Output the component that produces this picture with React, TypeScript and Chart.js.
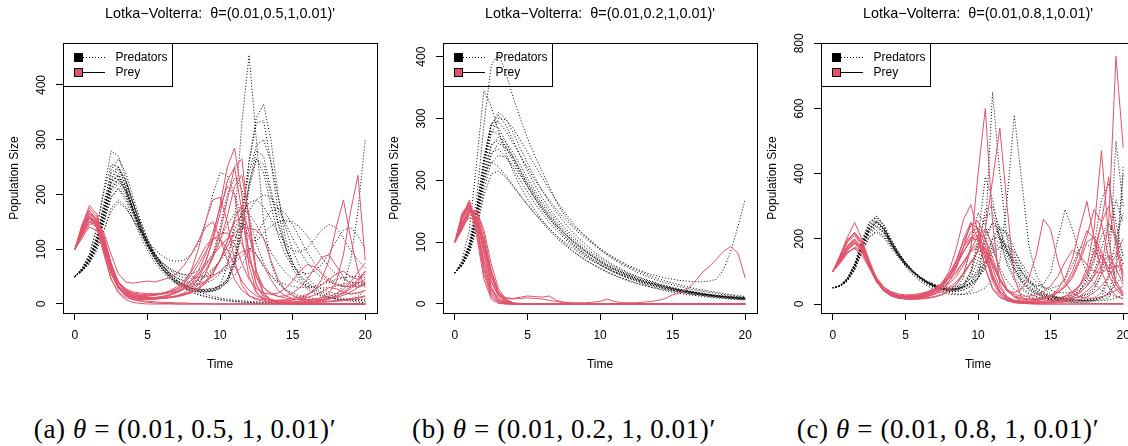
import React, { useEffect, useRef } from "react";
import { Chart, registerables } from "chart.js";

Chart.register(...registerables);

const FONT = "'Liberation Sans', Arial, Helvetica, sans-serif";
const PREY_COLOR = "#DF536B";
const PRED_COLOR = "#000000";

// ---------------- data ----------------
const timeGrid = [0, 0.5, 1, 1.5, 2, 2.5, 3, 3.5, 4, 4.5, 5, 5.5, 6, 6.5, 7, 7.5, 8, 8.5, 9, 9.5, 10, 10.5, 11, 11.5, 12, 12.5, 13, 13.5, 14, 14.5, 15, 15.5, 16, 16.5, 17, 17.5, 18, 18.5, 19, 19.5, 20];
const xTicks = [0, 5, 10, 15, 20];
const yTicksA = [0, 100, 200, 300, 400];
const yTicksB = [0, 100, 200, 300, 400];
const yTicksC = [0, 200, 400, 600, 800];
const legendLabels = ["Predators", "Prey"];
const panelTitles = [
  "Lotka\u2212Volterra:  \u03b8=(0.01,0.5,1,0.01)'",
  "Lotka\u2212Volterra:  \u03b8=(0.01,0.2,1,0.01)'",
  "Lotka\u2212Volterra:  \u03b8=(0.01,0.8,1,0.01)'",
];
const xTitle = "Time";
const yTitle = "Population Size";
const captionTags = ["(a)", "(b)", "(c)"];
const captionThetas = ["(0.01, 0.5, 1, 0.01)\u2032", "(0.01, 0.2, 1, 0.01)\u2032", "(0.01, 0.8, 1, 0.01)\u2032"];

// Panel (a) prey
const preyA1 = [100,140,175,160,110,60,30,18,12,10, 9,9,10,12,15,20,30,45,75,120, 180,250,285,200,90,35,15,8,5,4, 4,5,6,8,12,20,40,90,170,235, 80];
const preyA2 = [100,135,165,155,115,70,38,22,15,12, 10,10,11,12,14,18,24,35,55,85, 130,190,250,265,150,50,18,8,4,3, 2,2,2,3,3,4,5,6,8,10, 14];
const preyA3 = [100,130,150,140,100,55,28,16,10,8, 8,9,11,15,22,35,60,100,150,190, 195,150,80,35,15,8,5,4,4,5, 7,10,15,25,45,80,140,190,120,60, 30];
const preyA4 = [100,145,170,150,95,45,20,8,3,1, 0,0,0,0,0,0,0,0,0,0, 0,0,0,0,0,0,0,0,0,0, 0,0,0,0,0,0,0,0,0,0, 0];
const preyA5 = [100,120,145,150,130,90,55,40,38,40, 42,40,44,48,55,70,90,115,140,150, 120,80,45,25,15,10,8,7,7,8, 10,13,18,25,35,45,55,60,50,45, 55];
const preyA6 = [100,130,160,145,105,60,32,20,15,13, 12,12,14,17,22,30,42,60,90,130, 175,215,200,120,50,20,10,6,4,3, 3,3,4,5,7,9,12,16,22,30, 40];
const preyA7 = [100,125,150,155,125,75,40,25,18,14, 12,11,11,12,14,17,22,30,42,60, 80,105,130,140,138,135,120,80,45,25, 15,10,8,7,8,10,14,20,28,40, 60];
const preyA8 = [100,140,160,140,90,45,22,12,8,6, 5,4,3,3,2,2,1,1,1,0, 0,0,0,0,0,0,0,0,0,0, 0,0,0,0,0,0,0,0,0,0, 0];
const preyA9 = [100,135,160,150,110,62,32,20,14,12, 11,11,12,13,15,18,22,28,38,55, 80,115,155,180,130,60,30,18,14,15, 20,30,45,65,85,90,70,50,35,30, 35];
const preyA10 = [100,125,140,135,110,70,40,28,22,20, 19,19,20,22,24,27,31,36,42,50, 60,72,85,95,100,90,70,45,25,15, 10,7,5,4,4,5,6,8,10,12, 15];
const preyA11 = [100,140,165,145,100,55,28,16,11,9, 9,9,10,11,13,16,20,27,38,55, 80,115,150,160,95,35,12,5,2,1, 1,0,0,0,0,0,0,0,0,0, 0];
const preyA12 = [100,130,155,150,120,70,38,24,18,16, 16,17,19,22,27,33,42,55,70,88, 105,120,125,110,80,50,30,20,14,11, 9,8,8,9,11,14,19,27,40,58, 75];
const preyA13 = [100,145,180,165,120,65,30,15,8,5, 3,2,1,1,0,0,0,0,0,0, 0,0,0,0,0,0,0,0,0,0, 0,0,0,0,0,0,0,0,0,0, 0];
const preyA14 = [100,128,150,148,118,72,40,26,20,18, 17,17,18,20,23,28,35,46,62,85, 115,160,215,235,160,60,20,8,4,2, 2,2,3,4,6,9,14,22,32,45, 60];
const preyA15 = [100,138,158,142,104,58,30,19,14,13, 14,16,19,24,31,42,58,80,105,120, 118,100,70,42,25,15,10,7,6,6, 7,9,12,16,22,30,28,22,18,20, 25];
const preyA16 = [100,132,158,150,112,64,34,22,17,15, 15,16,18,22,28,38,52,72,95,118, 128,130,110,75,45,28,20,18,20,28, 42,60,72,68,55,42,35,32,33,38, 45];
const preyA17 = [100,142,170,155,108,58,29,17,12,10, 10,11,13,16,20,27,37,52,78,115, 165,225,250,170,70,22,7,2,1,0.5, 0,0,0,0,0,0,0,0,0,0, 0];

// Panel (a) predators
const predA1 = [50,62,80,110,160,215,230,205,170,135, 105,82,63,48,37,30,25,22,22,25, 35,70,150,330,455,300,150,75,40,25, 17,12,9,7,6,5,6,7,9,14, 25];
const predA2 = [50,65,90,135,210,280,270,230,185,145, 110,85,66,52,41,33,28,25,25,27, 32,45,80,150,260,340,365,300,200,120, 75,48,32,22,16,12,9,8,7,7, 7];
const predA3 = [50,62,78,105,150,195,210,190,155,125, 98,76,59,46,37,32,32,38,55,90, 140,200,230,210,160,110,75,52,37,27, 20,15,12,10,9,11,16,35,80,170, 300];
const predA4 = [50,64,85,120,175,225,235,210,175,140, 110,88,70,55,44,35,28,22,18,14, 11,9,7,6,5,4,3,2.5,2,1.6, 1.3,1,0.8,0.6,0.5,0.4,0.3,0.2,0.2,0.1, 0.1];
const predA5 = [50,60,75,100,135,170,185,175,155,135, 115,100,88,80,78,80,90,110,150,200, 240,235,200,160,120,90,68,52,42,36, 32,30,30,32,36,40,45,48,50,50, 48];
const predA6 = [50,62,80,112,165,220,235,210,172,138, 108,84,65,50,39,31,26,23,22,24, 30,45,85,160,260,330,335,260,170,105, 65,42,28,19,14,11,9,8,8,8, 9];
const predA7 = [50,61,78,108,155,205,220,200,165,132, 104,82,64,51,41,34,29,27,27,29, 33,40,52,70,95,125,150,170,175,165, 145,120,95,75,58,46,38,33,31,32, 35];
const predA8 = [50,63,82,118,172,228,245,222,182,145, 113,87,67,51,39,30,23,18,14,11, 8.5,6.5,5,4,3,2.3,1.8,1.4,1,0.8, 0.6,0.5,0.4,0.3,0.2,0.2,0.1,0.1,0.1,0, 0];
const predA9 = [50,63,83,116,170,230,250,225,185,148, 116,90,70,54,43,35,30,27,26,28, 33,45,75,130,210,265,240,180,125,90, 68,58,55,60,72,92,115,135,140,125, 100];
const predA10 = [50,60,74,98,135,175,190,178,155,130, 108,90,76,66,58,53,50,49,50,53, 58,65,75,88,100,115,130,142,150,152, 150,140,125,105,85,68,55,46,40,37, 36];
const predA11 = [50,63,84,120,180,245,265,240,195,155, 120,93,72,56,44,36,30,26,24,25, 29,40,70,130,220,280,270,210,150,105, 75,54,40,30,22,17,13,10,8,6, 5];
const predA12 = [50,61,77,104,148,195,212,195,165,135, 110,90,74,62,53,48,46,48,54,64, 78,96,118,145,170,190,200,195,175,148, 120,96,76,60,48,40,35,32,32,34, 38];
const predA13 = [50,66,92,140,205,255,250,215,175,138, 108,84,65,50,38,29,22,17,13,10, 7.5,5.7,4.3,3.2,2.4,1.8,1.3,1,0.7,0.5, 0.4,0.3,0.2,0.1,0.1,0,0,0,0,0, 0];
const predA14 = [50,62,80,110,158,210,228,208,172,140, 112,90,72,58,48,41,37,36,38,44, 55,75,110,170,240,290,300,260,195,140, 98,68,48,35,27,22,19,18,19,21, 25];
const predA15 = [50,63,82,114,168,222,238,214,176,142, 114,92,76,64,57,54,55,60,72,92, 118,145,165,172,165,145,120,95,74,58, 46,38,33,30,29,30,33,36,38,39, 40];
const predA16 = [50,61,79,109,158,210,226,206,170,137, 109,87,70,57,48,43,41,43,50,62, 80,105,135,165,185,190,178,155,130,110, 98,95,102,118,135,145,140,120,98,80, 66];
const predA17 = [50,64,86,124,185,240,250,226,186,150, 118,92,71,55,43,34,28,24,22,23, 28,40,75,140,220,265,255,200,145,103, 73,52,37,26,19,13,9.5,7,5,3.5, 2.5];

// Panel (b) prey
const preyB1 = [100,125,150,140,95,45,18,10,9,11, 13,12,11,13,6,3,2,2,2,3, 4,8,4,2,2,2,3,4,6,9, 15,18,24,35,50,60,72,85,93,82, 42];
const preyB2 = [100,130,155,135,85,35,14,9,8,9, 10,9,8,6,4,2,1,0,0,0, 0,0,0,0,0,0,0,0,0,0, 0,0,0,0,0,0,0,0,0,0, 0];
const preyB3 = [100,140,165,125,55,15,3,1,0,0, 0,0,0,0,0,0,0,0,0,0, 0,0,0,0,0,0,0,0,0,0, 0,0,0,0,0,0,0,0,0,0, 0];
const preyB4 = [100,130,150,145,100,45,14,4,1,0, 0,0,0,0,0,0,0,0,0,0, 0,0,0,0,0,0,0,0,0,0, 0,0,0,0,0,0,0,0,0,0, 0];
const preyB5 = [100,145,160,110,40,8,1,0,0,0, 0,0,0,0,0,0,0,0,0,0, 0,0,0,0,0,0,0,0,0,0, 0,0,0,0,0,0,0,0,0,0, 0];
const preyB6 = [100,135,158,138,80,28,8,2,0,0, 0,0,0,0,0,0,0,0,0,0, 0,0,0,0,0,0,0,0,0,0, 0,0,0,0,0,0,0,0,0,0, 0];
const preyB7 = [100,120,145,150,120,65,25,8,2,0, 0,0,0,0,0,0,0,0,0,0, 0,0,0,0,0,0,0,0,0,0, 0,0,0,0,0,0,0,0,0,0, 0];
const preyB8 = [100,142,168,130,60,18,4,1,0,0, 0,0,0,0,0,0,0,0,0,0, 0,0,0,0,0,0,0,0,0,0, 0,0,0,0,0,0,0,0,0,0, 0];
const preyB9 = [100,128,152,148,105,50,16,5,1,0, 0,0,0,0,0,0,0,0,0,0, 0,0,0,0,0,0,0,0,0,0, 0,0,0,0,0,0,0,0,0,0, 0];
const preyB10 = [100,138,160,128,68,22,6,2,1,0, 0,0,0,0,0,0,0,0,0,0, 0,0,0,0,0,0,0,0,0,0, 0,0,0,0,0,0,0,0,0,0, 0];
const preyB11 = [100,125,140,135,98,52,20,7,2,1, 0.5,0,0,0,0,0,0,0,0,0, 0,0,0,0,0,0,0,0,0,0, 0,0,0,0,0,0,0,0,0,0, 0];
const preyB12 = [100,148,162,118,48,12,2,0,0,0, 0,0,0,0,0,0,0,0,0,0, 0,0,0,0,0,0,0,0,0,0, 0,0,0,0,0,0,0,0,0,0, 0];
const preyB13 = [100,133,150,140,90,38,12,3,1,0, 0,0,0,0,0,0,0,0,0,0, 0,0,0,0,0,0,0,0,0,0, 0,0,0,0,0,0,0,0,0,0, 0];
const preyB14 = [100,122,148,152,112,55,18,5,1,0, 0,0,0,0,0,0,0,0,0,0, 0,0,0,0,0,0,0,0,0,0, 0,0,0,0,0,0,0,0,0,0, 0];
const preyB15 = [100,140,155,125,70,25,7,2,0,0, 0,0,0,0,0,0,0,0,0,0, 0,0,0,0,0,0,0,0,0,0, 0,0,0,0,0,0,0,0,0,0, 0];

// Panel (b) predators
const predB1 = [50,68,100,170,290,385,405,375,335,300, 268,240,215,190,165,145,130,120,110,100, 90,82,75,68,62,57,52,48,45,42, 40,38,37,36,36,37,40,55,85,125, 170];
const predB2 = [50,72,120,230,345,320,280,245,215,190, 170,152,136,122,110,98,88,79,71,64, 57,51,46,41,37,33,30,27,24,21, 19,17,15,14,12,11,10,9,8,7, 6.5];
const predB3 = [50,66,95,150,230,290,305,290,265,240, 215,193,173,155,139,125,112,101,91,82, 74,67,60,54,49,44,40,36,32,29, 26,23,21,19,17,15,14,12,11,10, 9];
const predB4 = [50,65,92,148,225,280,275,255,232,210, 190,170,153,138,124,111,100,90,81,73, 66,59,53,48,43,39,35,31,28,25, 23,21,19,17,15,14,12,11,10,9, 8];
const predB5 = [50,63,86,130,195,240,260,252,235,215, 195,176,158,142,128,115,103,93,84,76, 68,61,55,50,45,40,36,33,30,27, 24,22,20,18,16,14,13,12,11,10, 9];
const predB6 = [50,62,82,122,175,210,215,205,190,175, 160,146,132,119,107,97,87,79,71,64, 58,52,47,42,38,34,31,28,25,23, 21,19,17,15,14,12,11,10,9,8, 7.5];
const predB7 = [50,65,90,142,215,275,300,298,285,265, 245,225,205,185,167,150,135,121,109,98, 88,79,71,64,58,52,47,42,38,34, 31,28,25,23,21,19,17,15,14,12, 11];
const predB8 = [50,67,97,155,238,290,285,262,238,214, 192,172,154,138,124,111,99,89,80,72, 64,57,51,46,41,37,33,30,27,24, 22,20,18,16,14,13,12,10,9,8, 7.5];
const predB9 = [50,64,88,135,205,255,270,262,245,225, 204,184,166,149,134,120,108,97,87,79, 71,64,58,52,47,42,38,34,31,28, 25,22,20,18,16,15,13,12,11,10, 9];
const predB10 = [50,63,87,135,200,245,250,238,220,200, 181,163,147,132,119,107,96,87,78,70, 63,57,51,46,42,38,34,31,28,25, 22,20,18,16,15,13,12,11,10,9, 8];
const predB11 = [50,66,94,148,228,288,310,300,278,252, 228,205,184,165,148,133,119,107,96,86, 77,69,62,56,50,45,41,37,33,30, 27,24,22,20,18,16,14,13,12,11, 10];
const predB12 = [50,64,90,145,210,230,222,208,192,176, 161,147,134,122,111,101,92,84,76,69, 63,57,52,47,43,39,35,32,29,26, 24,22,20,18,16,15,13,12,11,10, 9];
const predB13 = [50,66,95,152,235,292,295,280,260,240, 220,201,184,168,153,139,127,116,106,97, 88,80,73,66,60,55,50,45,41,37, 34,31,28,25,23,21,19,17,15,14, 12];
const predB14 = [50,64,90,140,210,258,265,255,238,218, 198,179,161,145,130,117,105,95,86,77, 69,62,56,51,46,41,37,34,30,27, 25,22,20,18,16,15,13,12,11,10, 9];
const predB15 = [50,62,84,125,185,228,240,238,225,208, 190,172,156,141,127,115,104,94,85,77, 69,62,56,51,46,42,38,34,31,28, 25,23,21,19,17,15,14,13,12,11, 10];

// Panel (c) prey
const preyC1 = [100,150,205,250,200,120,70,40,25,18, 15,14,15,17,21,28,40,60,95,170, 400,600,250,60,20,8,4,3,3,4, 6,9,14,22,35,55,85,120,150,110, 60];
const preyC2 = [100,140,175,195,175,120,75,45,30,22, 18,17,17,19,23,30,42,60,90,125, 165,230,380,540,300,80,20,7,4,3, 3,4,6,9,14,22,35,55,85,120, 100];
const preyC3 = [100,145,190,210,180,125,75,42,25,18, 16,17,20,27,40,62,100,170,260,305, 220,110,45,20,12,8,7,8,10,14, 25,45,80,140,230,315,200,100,50,25, 15];
const preyC4 = [100,135,170,185,165,115,70,45,30,24, 22,22,24,28,35,46,62,85,120,165, 210,230,180,100,45,20,10,6,5,5, 6,8,11,16,24,40,60,110,250,760, 480];
const preyC5 = [100,150,200,215,185,125,70,40,26,20, 18,19,22,28,38,55,80,120,175,220, 235,180,90,35,14,7,4,3,3,4, 6,10,17,30,55,110,230,470,200,60, 25];
const preyC6 = [100,140,180,200,170,115,68,40,27,22, 20,21,24,30,40,56,80,115,160,200, 210,165,90,40,18,9,6,5,6,8, 11,16,24,36,55,85,140,250,390,200, 90];
const preyC7 = [100,130,165,185,170,125,80,50,34,26, 22,21,22,25,30,38,50,68,95,130, 160,170,130,70,40,35,45,80,150,260, 230,130,65,35,22,18,18,22,30,42, 55];
const preyC8 = [100,125,155,175,165,125,82,52,36,28, 25,25,27,32,40,52,70,95,130,165, 185,170,125,75,42,25,18,16,17,20, 26,36,52,80,130,190,205,160,90,45, 25];
const preyC9 = [100,145,195,220,190,130,75,42,26,19, 16,16,18,22,30,44,68,110,175,250, 230,150,70,28,10,4,2,1,0.5,0, 0,0,0,0,0,0,0,0,0,0, 0];
const preyC10 = [100,135,160,170,150,110,70,45,32,26, 24,25,28,34,44,60,85,120,160,195, 200,150,80,35,14,5,2,1,0,0, 0,0,0,0,0,0,0,0,0,0, 0];
const preyC11 = [100,140,175,190,165,115,68,42,29,23, 21,22,25,31,42,60,90,135,190,240, 255,200,110,50,22,11,7,6,6,8, 11,16,24,37,58,95,160,250,300,180, 70];
const preyC12 = [100,138,178,198,172,120,72,44,30,24, 22,23,26,32,42,58,82,118,160,200, 225,200,140,80,40,22,15,13,14,18, 25,38,60,100,165,225,200,140,110,115, 120];
const preyC13 = [100,128,158,172,158,118,78,52,38,31, 28,29,32,38,47,60,78,100,130,160, 175,160,118,75,45,30,24,24,28,38, 55,85,130,165,150,120,100,95,110,150, 200];
const preyC14 = [100,145,192,218,195,135,78,43,27,20, 17,17,19,24,33,50,80,130,200,250, 200,110,50,22,10,5,3,2,2,3, 5,8,13,21,34,55,90,150,110,60, 30];
const preyC15 = [100,132,168,190,172,122,74,46,32,26, 24,25,29,36,47,65,92,130,175,205, 195,140,80,40,20,12,9,9,11,15, 22,34,54,88,140,210,290,250,140,70, 35];

// Panel (c) predators
const predC1 = [50,55,75,115,180,240,270,240,190,150, 115,90,70,55,43,35,30,28,30,40, 80,220,650,400,200,110,65,42,30,22, 17,14,12,11,11,12,14,20,35,60, 90];
const predC2 = [50,56,78,120,185,235,255,230,185,148, 118,94,75,60,49,41,35,31,30,32, 38,50,75,130,320,580,380,180,90,50, 30,20,15,12,10,9,9,10,13,18, 28];
const predC3 = [50,54,72,110,170,225,250,228,188,152, 122,98,78,62,50,42,38,40,55,100, 200,390,320,200,120,72,45,30,22,18, 16,16,18,24,40,80,180,320,370,250, 140];
const predC4 = [50,55,74,112,172,222,240,220,182,148, 120,97,79,65,55,48,45,46,52,65, 90,130,175,200,180,140,100,70,50,36, 27,21,17,14,12,11,11,13,20,80, 400];
const predC5 = [50,57,80,125,195,250,270,245,200,160, 128,102,82,66,54,46,41,40,44,55, 80,130,200,240,210,150,100,66,44,30, 21,15,11,9,8,8,10,20,80,500, 300];
const predC6 = [50,56,76,116,178,230,252,232,192,155, 125,100,80,64,52,44,39,38,42,54, 78,120,180,230,220,170,115,75,50,34, 24,18,14,12,11,11,13,18,30,120, 420];
const predC7 = [50,55,73,108,165,215,235,218,182,150, 122,100,82,68,57,50,46,46,50,60, 80,115,160,190,170,130,90,65,55,60, 95,200,290,230,150,95,62,42,30,22, 17];
const predC8 = [50,54,70,104,158,205,225,210,178,148, 122,101,84,70,60,53,49,49,53,62, 80,108,145,175,180,160,125,92,68,52, 42,36,34,36,44,62,100,170,245,200, 120];
const predC9 = [50,57,80,122,190,248,265,240,198,160, 128,102,82,66,54,46,42,44,55,90, 170,290,300,230,160,110,76,52,36,25, 17,12,8.5,6,4,3,2,1.5,1,0.7, 0.5];
const predC10 = [50,56,77,118,180,232,255,232,192,156, 126,102,83,68,57,49,45,46,55,80, 135,210,250,210,150,100,68,46,32,22, 15,10,7,5,3.5,2.5,1.7,1.2,0.8,0.6, 0.4];
const predC11 = [50,55,75,114,176,228,250,230,190,154, 124,100,81,66,55,48,45,48,62,100, 180,270,280,200,130,82,52,34,23,17, 13,11,10,10,11,13,18,35,90,200, 280];
const predC12 = [50,56,76,116,178,230,250,228,188,152, 123,99,80,65,54,46,42,43,50,68, 110,190,250,230,165,110,72,48,34,26, 22,20,22,28,40,70,130,210,250,210, 150];
const predC13 = [50,54,71,105,160,205,220,205,172,143, 118,98,82,69,60,54,52,54,62,78, 100,130,160,175,160,130,98,74,58,50, 48,55,75,120,170,185,160,125,100,95, 110];
const predC14 = [50,56,78,120,186,240,258,234,194,158, 128,103,83,67,55,47,43,48,80,180, 280,240,170,110,70,45,30,21,16,13, 12,12,13,16,22,32,50,90,140,160, 130];
const predC15 = [50,55,74,112,172,222,242,222,186,152, 124,101,82,67,56,49,45,46,52,66, 95,150,200,205,165,120,82,56,40,30, 24,20,18,18,21,28,42,90,200,320, 250];

const preyA = [preyA1, preyA2, preyA3, preyA4, preyA5, preyA6, preyA7, preyA8, preyA9, preyA10, preyA11, preyA12, preyA13, preyA14, preyA15, preyA16, preyA17];
const predA = [predA1, predA2, predA3, predA4, predA5, predA6, predA7, predA8, predA9, predA10, predA11, predA12, predA13, predA14, predA15, predA16, predA17];
const preyB = [preyB1, preyB2, preyB3, preyB4, preyB5, preyB6, preyB7, preyB8, preyB9, preyB10, preyB11, preyB12, preyB13, preyB14, preyB15];
const predB = [predB1, predB2, predB3, predB4, predB5, predB6, predB7, predB8, predB9, predB10, predB11, predB12, predB13, predB14, predB15];
const preyC = [preyC1, preyC2, preyC3, preyC4, preyC5, preyC6, preyC7, preyC8, preyC9, preyC10, preyC11, preyC12, preyC13, preyC14, preyC15];
const predC = [predC1, predC2, predC3, predC4, predC5, predC6, predC7, predC8, predC9, predC10, predC11, predC12, predC13, predC14, predC15];

[preyA, predA, preyB, predB, preyC, predC].forEach((group, g) =>
  group.forEach((s, i) => {
    if (s.length !== timeGrid.length) throw new Error(`group ${g} series ${i} has length ${s.length}`);
  })
);

// ---------------- layout constants ----------------
const CANVAS_W = 380;
const CANVAS_H = 380;
const PLOT_LEFT = 63;
const PLOT_RIGHT = 378;
const PLOT_TOP = 43;
const PLOT_BOTTOM = 313;

function buildDatasets(prey: number[][], pred: number[][]) {
  const toPts = (vals: number[]) => vals.map((v, j) => ({ x: timeGrid[j], y: v }));
  return [
    ...prey.map((vals, i) => ({
      label: `${legendLabels[1]} ${i + 1}`,
      data: toPts(vals),
      borderColor: PREY_COLOR,
      borderWidth: 1,
      pointRadius: 0,
      tension: 0,
      fill: false,
      order: 0,
      xAxisID: "x",
      yAxisID: "y",
    })),
    ...pred.map((vals, i) => ({
      label: `${legendLabels[0]} ${i + 1}`,
      data: toPts(vals),
      borderColor: PRED_COLOR,
      borderWidth: 1,
      borderDash: [1, 2],
      pointRadius: 0,
      tension: 0,
      fill: false,
      order: 1,
      xAxisID: "x",
      yAxisID: "y",
    })),
  ];
}

const rLegendPlugin = {
  id: "rLegend",
  afterDraw(chart: any) {
    const { ctx, chartArea } = chart;
    const x0 = Math.round(chartArea.left);
    const y0 = Math.round(chartArea.top);
    ctx.save();
    ctx.setLineDash([]);
    ctx.strokeStyle = "#000";
    ctx.lineWidth = 1;
    ctx.strokeRect(x0 + 0.5, y0 + 0.5, 109, 43);
    // predators row
    ctx.fillStyle = "#000";
    ctx.fillRect(x0 + 11, y0 + 10, 9, 9);
    ctx.beginPath();
    ctx.setLineDash([1, 2]);
    ctx.moveTo(x0 + 20, y0 + 14.5);
    ctx.lineTo(x0 + 42, y0 + 14.5);
    ctx.stroke();
    // prey row
    ctx.setLineDash([]);
    ctx.beginPath();
    ctx.moveTo(x0 + 20, y0 + 29.5);
    ctx.lineTo(x0 + 42, y0 + 29.5);
    ctx.stroke();
    ctx.fillStyle = PREY_COLOR;
    ctx.fillRect(x0 + 11.5, y0 + 25.5, 8, 8);
    ctx.strokeRect(x0 + 11.5, y0 + 25.5, 8, 8);
    // text
    ctx.fillStyle = "#000";
    ctx.font = `12px ${FONT}`;
    ctx.textBaseline = "middle";
    ctx.textAlign = "left";
    ctx.fillText(legendLabels[0], x0 + 52.5, y0 + 15);
    ctx.fillText(legendLabels[1], x0 + 52.5, y0 + 29.5);
    ctx.restore();
  },
};

type PanelProps = {
  left: number;
  title: string;
  prey: number[][];
  pred: number[][];
  yMin: number;
  yMax: number;
  yTicks: number[];
};

function Panel({ left, title, prey, pred, yMin, yMax, yTicks }: PanelProps) {
  const ref = useRef<HTMLCanvasElement | null>(null);
  useEffect(() => {
    if (!ref.current) return;
    const xMin = -0.82;
    const xMax = 20.82;
    const tickFont = { family: FONT, size: 12 };
    const chart = new Chart(ref.current, {
      type: "line",
      data: { datasets: buildDatasets(prey, pred) as any },
      options: {
        animation: false,
        responsive: false,
        devicePixelRatio: 1,
        events: [],
        layout: { padding: { left: 0, right: CANVAS_W - PLOT_RIGHT, top: 0, bottom: 0 } },
        plugins: {
          legend: { display: false },
          tooltip: { enabled: false },
          title: {
            display: true,
            text: title,
            fullSize: false,
            color: "#000",
            font: { family: FONT, size: 14.4, weight: "normal" as any, lineHeight: 1.2 },
            padding: { top: 5.5, bottom: PLOT_TOP - 5.5 - 14.4 * 1.2 },
          },
        },
        scales: {
          x: {
            type: "linear",
            position: "bottom",
            min: xMin,
            max: xMax,
            afterBuildTicks: (s: any) => {
              s.ticks = xTicks.map((v) => ({ value: v }));
            },
            afterFit: (s: any) => {
              s.height = CANVAS_H - PLOT_BOTTOM;
            },
            grid: { display: true, drawOnChartArea: false, drawTicks: true, tickLength: 7, color: "#000", lineWidth: 1 },
            border: { display: true, color: "#000", width: 1 },
            ticks: { color: "#000", font: tickFont, padding: 8, maxRotation: 0, minRotation: 0, autoSkip: false, callback: (v: any) => String(v) },
            title: { display: true, text: xTitle, color: "#000", font: { family: FONT, size: 12 }, padding: { top: 0, bottom: 8 } },
          },
          y: {
            type: "linear",
            position: "left",
            min: yMin,
            max: yMax,
            afterBuildTicks: (s: any) => {
              s.ticks = yTicks.map((v) => ({ value: v }));
            },
            afterFit: (s: any) => {
              s.width = PLOT_LEFT;
            },
            grid: { display: true, drawOnChartArea: false, drawTicks: true, tickLength: 7, color: "#000", lineWidth: 1 },
            border: { display: true, color: "#000", width: 1 },
            ticks: { color: "#000", font: tickFont, padding: 4, minRotation: 90, maxRotation: 90, crossAlign: "center", autoSkip: false, callback: (v: any) => String(v) },
            title: { display: true, text: yTitle, color: "#000", font: { family: FONT, size: 12 }, padding: { top: 7, bottom: 0 } },
          },
          x2: {
            type: "linear",
            position: "top",
            min: xMin,
            max: xMax,
            ticks: { display: false },
            grid: { display: false },
            border: { display: true, color: "#000", width: 1 },
            afterFit: (s: any) => {
              s.height = 0;
            },
          },
          y2: {
            type: "linear",
            position: "right",
            min: yMin,
            max: yMax,
            ticks: { display: false },
            grid: { display: false },
            border: { display: true, color: "#000", width: 1 },
            afterFit: (s: any) => {
              s.width = 0;
            },
          },
        } as any,
      },
      plugins: [rLegendPlugin],
    });
    return () => chart.destroy();
  }, []);
  return (
    <canvas
      ref={ref}
      width={CANVAS_W}
      height={CANVAS_H}
      style={{ position: "absolute", left, top: 0, width: CANVAS_W, height: CANVAS_H }}
    />
  );
}

const captionStyle: React.CSSProperties = {
  position: "absolute",
  top: 416,
  transform: "translateX(-50%)",
  whiteSpace: "nowrap",
  fontFamily: "'Liberation Serif', 'Times New Roman', serif",
  fontSize: 27,
  letterSpacing: "0.6px",
  lineHeight: "27px",
  color: "#000",
};

export default function App() {
  const panels = [
    { left: 0, prey: preyA, pred: predA, yMin: -16.44, yMax: 476.7, yTicks: yTicksA, cap: 185 },
    { left: 380, prey: preyB, pred: predB, yMin: -14.56, yMax: 422.1, yTicks: yTicksB, cap: 564 },
    { left: 758, prey: preyC, pred: predC, yMin: -27.6, yMax: 801, yTicks: yTicksC, cap: 948 },
  ];
  return (
    <div style={{ position: "absolute", left: 0, top: 0, width: 1128, height: 446, overflow: "hidden", background: "#fff" }}>
      {panels.map((p, i) => (
        <Panel key={i} left={p.left} title={panelTitles[i]} prey={p.prey} pred={p.pred} yMin={p.yMin} yMax={p.yMax} yTicks={p.yTicks} />
      ))}
      {panels.map((p, i) => (
        <div key={`cap${i}`} style={{ ...captionStyle, left: p.cap }}>
          {captionTags[i]} <i>{"\u03b8"}</i> = {captionThetas[i]}
        </div>
      ))}
    </div>
  );
}
